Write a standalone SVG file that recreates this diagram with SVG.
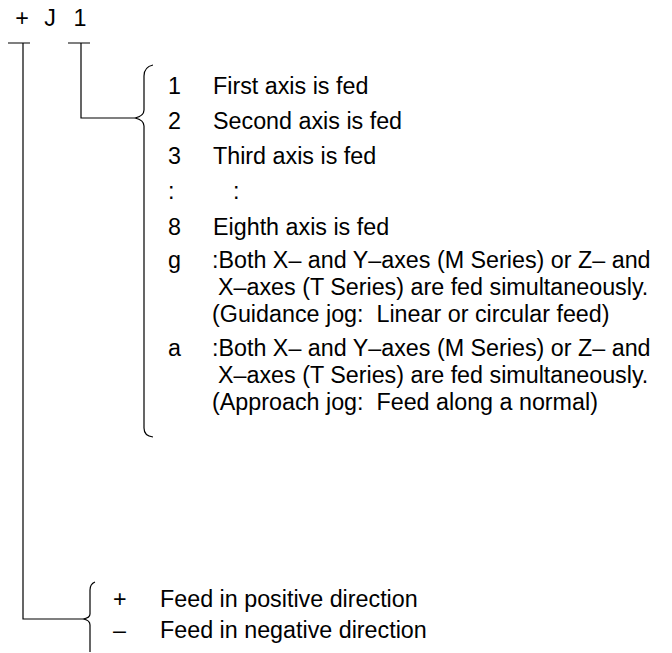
<svg xmlns="http://www.w3.org/2000/svg" width="672" height="653" viewBox="0 0 672 653">
<style>
text{font-family:"Liberation Sans",Arial,sans-serif;font-size:23.3px;fill:#000;white-space:pre}
.ln{fill:none;stroke:#000;stroke-width:1.2}
</style>
<rect width="672" height="653" fill="#fff"/>
<g id="code">
<text x="22" y="26" text-anchor="middle">+</text>
<text x="50" y="26" text-anchor="middle">J</text>
<text x="80" y="26" text-anchor="middle">1</text>
</g>
<g id="connectors">
<path class="ln" d="M8 43H30M68 43H90"/>
<path class="ln" d="M81 43V118H135"/>
<path class="ln" d="M23 43V619H83"/>
</g>
<g id="brace-axis">
<path class="ln" d="M153 65Q144 67 144 76V110Q144 116 135 118Q144 120 144 126V428Q144 436 153 437"/>
</g>
<g id="axis-options">
<text x="168" y="94">1</text><text x="213" y="94">First axis is fed</text>
<text x="168" y="129">2</text><text x="213" y="129">Second axis is fed</text>
<text x="168" y="164">3</text><text x="213" y="164">Third axis is fed</text>
<text x="168" y="199">:</text><text x="233" y="199">:</text>
<text x="168" y="235">8</text><text x="213" y="235">Eighth axis is fed</text>
<text x="168" y="268">g</text><text x="212" y="268">:Both X– and Y–axes (M Series) or Z– and</text>
<text x="218" y="295">X–axes (T Series) are fed simultaneously.</text>
<text x="212" y="322" xml:space="preserve">(Guidance jog:  Linear or circular feed)</text>
<text x="168" y="356">a</text><text x="212" y="356">:Both X– and Y–axes (M Series) or Z– and</text>
<text x="218" y="383">X–axes (T Series) are fed simultaneously.</text>
<text x="212" y="410" xml:space="preserve">(Approach jog:  Feed along a normal)</text>
</g>
<g id="brace-dir">
<path class="ln" d="M95 582Q90 584 90 590V614Q90 618 83 619Q90 620 90 625V652"/>
</g>
<g id="direction-options">
<text x="113" y="607">+</text><text x="160" y="607">Feed in positive direction</text>
<text x="113" y="638">–</text><text x="160" y="638">Feed in negative direction</text>
</g>
</svg>
